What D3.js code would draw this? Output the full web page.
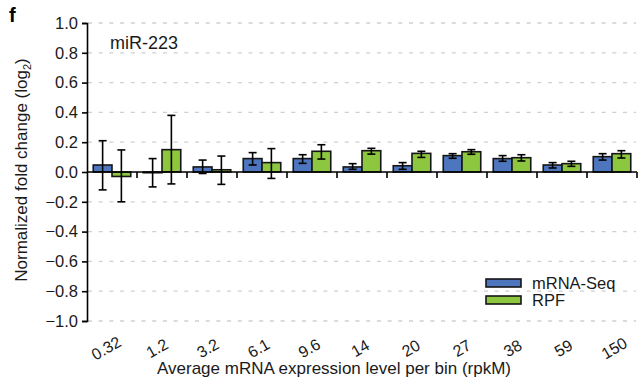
<!DOCTYPE html>
<html><head><meta charset="utf-8">
<script src="https://cdn.jsdelivr.net/npm/d3@7"></script>
<style>body{margin:0;background:#fff}svg{display:block;font-family:"Liberation Sans",Arial,sans-serif}</style>
</head><body>
<svg id="c" width="640" height="383"></svg>
<script>
const categories = ["0.32","1.2","3.2","6.1","9.6","14","20","27","38","59","150"];
const mrnaValues = [0.047,-0.005,0.034,0.09,0.09,0.034,0.042,0.11,0.09,0.047,0.103];
const mrnaErrHigh = [0.21,0.09,0.08,0.13,0.116,0.056,0.063,0.123,0.11,0.063,0.123];
const mrnaErrLow = [-0.12,-0.1,-0.01,0.047,0.058,0.018,0.018,0.092,0.072,0.027,0.08];
const rpfValues = [-0.03,0.15,0.015,0.063,0.139,0.143,0.125,0.136,0.096,0.056,0.123];
const rpfErrHigh = [0.148,0.38,0.107,0.157,0.183,0.159,0.139,0.15,0.116,0.072,0.143];
const rpfErrLow = [-0.2,-0.08,-0.083,-0.043,0.087,0.12,0.098,0.119,0.074,0.038,0.094];
const yTicks = [-1.0,-0.8,-0.6,-0.4,-0.2,0.0,0.2,0.4,0.6,0.8,1.0];
const seriesNames = ["mRNA-Seq","RPF"];
const colors = ["#4d76bf","#8dc63f"];

const svg = d3.select("#c");
const x = d3.scaleBand().domain(categories).range([87,637]).paddingInner(0).paddingOuter(0);
const xs = d3.scaleBand().domain(seriesNames).range([0,x.bandwidth()]).paddingInner(0).paddingOuter(0.333);
const xLab = d3.scalePoint().domain(categories).range([109,617]);
const y = d3.scaleLinear().domain([-1,1]).range([321,23]);
const fmt = v => d3.format(".1f")(v).replace("-","\u2212");

// gridlines
svg.append("g").selectAll("line").data(yTicks.filter(t=>t!==0)).join("line")
  .attr("x1",88).attr("x2",636).attr("y1",d=>y(d)).attr("y2",d=>y(d))
  .attr("stroke","#cfcfcf").attr("stroke-width",1.3).attr("stroke-dasharray","4,6.7");

// y axis
const yAxis = d3.axisLeft(y).tickValues(yTicks).tickFormat(fmt).tickSize(5).tickPadding(4);
const gy = svg.append("g").attr("transform","translate(87,0)").call(yAxis);
gy.select(".domain").attr("stroke","#000").attr("stroke-width",1.6);
gy.selectAll(".tick line").attr("stroke","#000").attr("stroke-width",1.6);
gy.selectAll("text").attr("font-size",16.5).attr("fill","#1a1a1a").attr("font-family","Liberation Sans, Arial");

// bars
const data = [
  {vals:mrnaValues, hi:mrnaErrHigh, lo:mrnaErrLow},
  {vals:rpfValues, hi:rpfErrHigh, lo:rpfErrLow}
];
data.forEach((s,si)=>{
  const g = svg.append("g");
  g.selectAll("rect").data(categories).join("rect")
    .attr("x",c=>x(c)+xs(seriesNames[si]))
    .attr("width",xs.bandwidth())
    .attr("y",(c,i)=>y(Math.max(0,s.vals[i])))
    .attr("height",(c,i)=>Math.abs(y(s.vals[i])-y(0)))
    .attr("fill",colors[si]).attr("stroke","#161616").attr("stroke-width",1.6);
});

// x axis
const xAxisG = svg.append("g").attr("transform","translate(0,172)");
xAxisG.append("line").attr("x1",87).attr("x2",637).attr("y1",0).attr("y2",0).attr("stroke","#000").attr("stroke-width",1.6);
xAxisG.selectAll("line.tk").data(categories).join("line").attr("class","tk")
  .attr("x1",c=>x(c)+x.bandwidth()).attr("x2",c=>x(c)+x.bandwidth()).attr("y1",0).attr("y2",6)
  .attr("stroke","#000").attr("stroke-width",1.6);

// error bars
data.forEach((s,si)=>{
  const g = svg.append("g").attr("stroke","#000").attr("stroke-width",1.6);
  categories.forEach((c,i)=>{
    const cx = x(c)+xs(seriesNames[si])+xs.bandwidth()/2;
    g.append("line").attr("x1",cx).attr("x2",cx).attr("y1",y(s.hi[i])).attr("y2",y(s.lo[i]));
    g.append("line").attr("x1",cx-4).attr("x2",cx+4).attr("y1",y(s.hi[i])).attr("y2",y(s.hi[i]));
    g.append("line").attr("x1",cx-4).attr("x2",cx+4).attr("y1",y(s.lo[i])).attr("y2",y(s.lo[i]));
  });
});

// x tick labels
svg.append("g").selectAll("text").data(categories).join("text")
  .attr("transform",c=>`translate(${xLab(c)},353) rotate(-30)`)
  .attr("text-anchor","middle").attr("font-size",16).attr("fill","#1a1a1a").text(c=>c);

// axis titles
svg.append("text").attr("x",334).attr("y",374).attr("text-anchor","middle").attr("font-size",17).attr("fill","#1a1a1a")
  .text("Average mRNA expression level per bin (rpkM)");
const yt = svg.append("text").attr("transform","translate(27,170) rotate(-90)").attr("text-anchor","middle")
  .attr("font-size",17).attr("fill","#1a1a1a");
yt.append("tspan").text("Normalized fold change (log");
yt.append("tspan").attr("font-size",11).attr("dy",4).text("2");
yt.append("tspan").attr("dy",-4).text(")");

svg.append("text").attr("x",9).attr("y",22).attr("font-size",20).attr("font-weight","bold").text("f");
svg.append("text").attr("x",110).attr("y",49).attr("font-size",18).attr("fill","#1a1a1a").text("miR-223");

// legend
const lg = svg.append("g");
seriesNames.forEach((n,i)=>{
  lg.append("rect").attr("x",486).attr("y",279+i*17).attr("width",35).attr("height",8)
    .attr("fill",colors[i]).attr("stroke","#161616").attr("stroke-width",1.6);
  lg.append("text").attr("x",532).attr("y",288.5+i*17).attr("font-size",16.5).attr("fill","#1a1a1a").text(n);
});
</script>
</body></html>
